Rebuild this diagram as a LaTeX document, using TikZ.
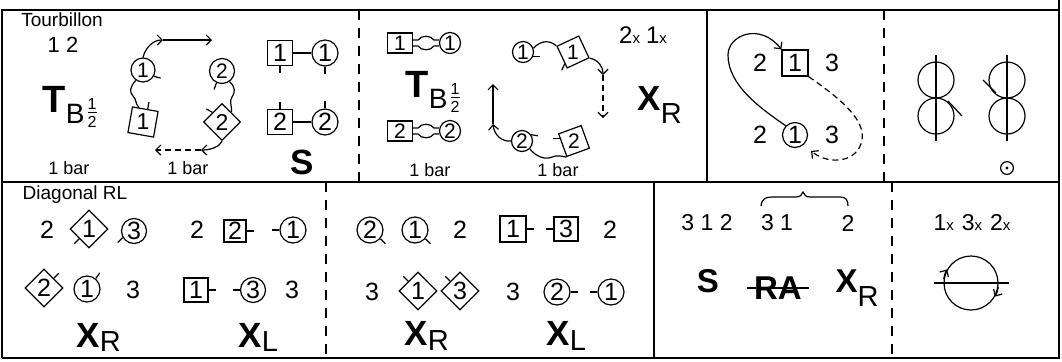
\documentclass[tikz,border=0pt]{standalone}
\usepackage{fontspec}
\setmainfont{Liberation Sans}
\usetikzlibrary{shapes.geometric,arrows.meta}

\newcommand{\fsz}[1]{\fontsize{#1}{#1}\selectfont}
% short facing mark on a dancer
\newcommand{\facing}[3]{\draw (#1.#2) -- ++(#3:3.5pt);}
% joined hands between a man and a woman
\newcommand{\hands}[2]{%
  \draw ([yshift=1.5pt]#1.east) -- ([shift={(2.5pt,1.5pt)}]#1.east)
    .. controls ([shift={(4pt,4pt)}]#1.east) and ([shift={(-4pt,4pt)}]#2.west) ..
    ([shift={(-2.5pt,1.5pt)}]#2.west) -- ([yshift=1.5pt]#2.west);
  \draw ([yshift=-1.5pt]#1.east) -- ([shift={(2.5pt,-1.5pt)}]#1.east)
    .. controls ([shift={(4pt,-4pt)}]#1.east) and ([shift={(-4pt,-4pt)}]#2.west) ..
    ([shift={(-2.5pt,-1.5pt)}]#2.west) -- ([yshift=-1.5pt]#2.west);}
\newcommand{\halfsup}{\raisebox{1.5pt}{$\vcenter{\hbox{\fsz{8}1}\kern1.6pt\hrule height 0.45pt\kern1.6pt\hbox{\fsz{8}2}}$}}
\newcommand{\TBhalf}{{\fsz{19}\bfseries T}\raisebox{-5.5pt}{\fsz{14}B\kern1.6pt\halfsup}}
\newcommand{\Xsub}[2]{{\bfseries X}\raisebox{-#2}{\fsz{14.5}#1}}
\newcommand{\xtimes}[1]{#1{\fsz{7.5}x}}

\tikzset{
  frame/.style={line width=0.9pt},
  divider/.style={line width=0.9pt, dash pattern=on 5pt off 4pt},
  dashmove/.style={dash pattern=on 3pt off 2pt},
  man/.style={draw, rectangle, inner sep=0pt, minimum size=12.5pt, font=\fsz{12.5}},
  woman/.style={draw, circle, inner sep=0pt, minimum size=13pt, font=\fsz{12.5}},
  mandiag/.style={draw, diamond, aspect=1, inner sep=0pt, minimum size=19pt, font=\fsz{12.5}},
  numlabel/.style={inner sep=0pt, font=\fsz{12.5}},
  caption/.style={inner sep=0pt, font=\fsz{9.5}},
  barlabel/.style={inner sep=0pt, font=\fsz{9}},
}

\begin{document}
\begin{tikzpicture}[x=0.5pt, y=-0.5pt, line width=0.6pt, >={Straight Barb[length=2.5pt,width=5pt]}]
\useasboundingbox (0,0) rectangle (1062,361);

% table
\draw[frame] (2,358) -- (2,10) -- (1059,10);
\draw[frame] (1059,0) -- (1059,358) -- (2,358);
\draw[frame] (2,182) -- (1059,182);
\draw[divider] (359,10) -- (359,182);
\draw[frame] (707,10) -- (707,182);
\draw[divider] (884,10) -- (884,182);
\draw[divider] (326,182) -- (326,358);
\draw[frame] (654,182) -- (654,358);
\draw[divider] (892,182) -- (892,358);

% --- Tourbillon, first half ---
\node[caption] (tourb) at (62,20) {Tourbillon};
\node[inner sep=0pt, font=\fsz{11}] (bars12) at (63,45) {1 2};
\node[inner sep=0pt, anchor=base west] (tb1) at (42,112) {\TBhalf};
\node[barlabel] (bar1a) at (69,168) {1 bar};

\node[woman, minimum size=12pt, font=\fsz{10.5}] (w1a) at (143,70) {1};
\node[man, rotate=-10, minimum size=13pt] (m1a) at (143,122) {};
\node[inner sep=0pt, font=\fsz{11.5}] (m1at) at (m1a) {1};
\node[woman, minimum size=12.5pt, font=\fsz{10.5}] (w2a) at (222,71) {2};
\node[mandiag, minimum size=18.5pt, font=\fsz{11.5}] (m2a) at (222,122) {2};
\facing{w1a}{-30}{-15}
\facing{m1a}{80}{80}
\facing{w2a}{-115}{-110}
\facing{m2a}{north west}{150}
\draw (w1a.235) .. controls (130,87) and (129,92) .. (133,96) .. controls (137,100) and (135,104) .. (m1a.115);
\draw (w2a.-55) .. controls (236,87) and (235,93) .. (232,97) .. controls (229,101) and (232,106) .. (m2a.north east);
\coordinate (turn1) at (163,40);
\draw[->] (w1a.north) .. controls (145,49) and (152,40) .. (turn1);
\draw[->] (turn1) -- (212,40);
\coordinate (turn2) at (201,150);
\draw[->] (m2a.south) .. controls (220,146) and (212,150) .. (turn2);
\draw[->, dashmove] (turn2) -- (155,150);
\node[barlabel] (bar1b) at (188,168) {1 bar};

\node[man] (m1b) at (280,53) {1};
\node[woman] (w1b) at (325,53) {1};
\draw (m1b) -- (w1b);
\facing{m1b}{south}{-90}
\facing{w1b}{south}{-90}
\node[man] (m2b) at (280,122) {2};
\node[woman] (w2b) at (325,122) {2};
\draw (m2b) -- (w2b);
\facing{m2b}{north}{90}
\facing{w2b}{north}{90}
\node[inner sep=0pt, font={\fsz{17.5}\bfseries}] (s1) at (302,162) {S};

% --- Tourbillon, second half ---
\node[man, minimum width=12.5pt, minimum height=10pt, font=\fsz{10.5}] (m1c) at (400,43) {1};
\node[woman, minimum size=10.5pt, font=\fsz{10.5}] (w1c) at (450,43) {1};
\hands{m1c}{w1c}
\node[inner sep=0pt, anchor=base west] (tb2) at (405,97) {\TBhalf};
\node[man, minimum width=12.5pt, minimum height=10pt, font=\fsz{10.5}] (m2c) at (400,131) {2};
\node[woman, minimum size=10.5pt, font=\fsz{10.5}] (w2c) at (450,131) {2};
\hands{m2c}{w2c}
\node[barlabel] (bar2a) at (430,170) {1 bar};

\node[woman, minimum size=10.5pt, font=\fsz{10.5}] (w1d) at (523,52) {1};
\node[man, rotate=25, minimum size=12pt] (m1d) at (573,52) {};
\node[inner sep=0pt, font=\fsz{10.5}] (m1dt) at (m1d) {1};
\draw (w1d.20) .. controls (541,40) and (550,40) .. (m1d.north west);
\facing{w1d}{-25}{0}
\facing{m1d}{210}{-115}
\coordinate (turn3) at (603,75);
\draw[->] (m1d.south east) .. controls (598,60) and (603,66) .. (turn3);
\draw[->, dashmove] (turn3) -- (603,118);
\node[woman, minimum size=10.5pt, font=\fsz{10.5}] (w2d) at (522,141) {2};
\node[man, rotate=20, minimum size=12pt] (m2d) at (574,141) {};
\node[inner sep=0pt, font=\fsz{10.5}] (m2dt) at (m2d) {2};
\draw (w2d.-45) .. controls (536,157) and (546,160) .. (552,157) .. controls (557,155) and (561,156) .. (m2d.south west);
\facing{w2d}{35}{-10}
\facing{m2d}{150}{180}
\coordinate (turn4) at (493,124);
\draw[->] (w2d.west) .. controls (501,142) and (494,134) .. (turn4);
\draw[->] (turn4) -- (493,84);
\node[barlabel] (bar2b) at (558,170) {1 bar};
\node[inner sep=0pt, font=\fsz{12}] (rep2) at (643,35) {\xtimes{2}\hspace{3pt}\xtimes{1}};
\node[inner sep=0pt, anchor=base west, font=\fsz{17.5}] (xr2) at (637,110) {\Xsub{R}{6.5pt}};

% --- loop round ---
\node[numlabel] (p3a) at (760,63) {2};
\node[man, minimum size=13pt] (m1e) at (795,63) {1};
\node[numlabel] (p3b) at (832,63) {3};
\node[numlabel] (p3c) at (760,135) {2};
\node[woman, minimum size=12.5pt] (w1e) at (795,135) {1};
\node[numlabel] (p3d) at (832,135) {3};
\draw[->] (w1e.north west) .. controls (760,108) and (728,85) .. (728,55) .. controls (728,35) and (760,22) .. (m1e.north west);
\coordinate (back3) at (811,151);
\draw[->, dashmove] (m1e.south east) .. controls (835,95) and (866,118) .. (862,140) .. controls (858,162) and (830,166) .. (back3);

% --- figures of eight ---
\draw (936,80) circle[radius=9pt];
\draw (936,116) circle[radius=9pt];
\draw (936,55) -- (936,141);
\draw (948,101) -- (962,116);
\draw (1007,80) circle[radius=9pt];
\draw (1007,116) circle[radius=9pt];
\draw (1007,55) -- (1007,141);
\draw (983,80) -- (996,93);
\draw (1007,168) circle[radius=3.2pt];
\fill (1007,168) circle[radius=0.8pt];

% --- Diagonal RL ---
\node[caption] (diagrl) at (75,195) {Diagonal RL};
\node[numlabel] (q1a) at (47,230) {2};
\node[mandiag] (d1f) at (89,229) {1};
\node[woman, minimum size=12.5pt] (w3f) at (134,231) {3};
\facing{d1f}{south west}{-135}
\facing{w3f}{-150}{-135}
\node[numlabel] (q1b) at (197,230) {2};
\node[man, minimum size=11pt] (m2f) at (235,231) {2};
\node[woman] (w1f) at (293,230) {1};
\facing{m2f}{east}{0}
\facing{w1f}{west}{180}

\node[mandiag] (d2g) at (44,288) {2};
\node[woman] (w1g) at (87,289) {1};
\node[numlabel] (q1c) at (133,290) {3};
\facing{d2g}{north east}{45}
\facing{w1g}{50}{55}
\node[man, minimum size=12pt] (m1g) at (196,290) {1};
\node[woman, minimum size=12.5pt] (w3g) at (253,290) {3};
\node[numlabel] (q1d) at (292,290) {3};
\facing{m1g}{east}{0}
\facing{w3g}{west}{180}
\node[inner sep=0pt, anchor=base west, font=\fsz{17.5}] (xr4) at (76,347) {\Xsub{R}{2pt}};
\node[inner sep=0pt, anchor=base west, font=\fsz{17.5}] (xl4) at (238,347) {\Xsub{L}{2pt}};

\node[woman] (w2h) at (370,230) {2};
\node[woman] (w1h) at (415,230) {1};
\node[numlabel] (q2a) at (460,230) {2};
\facing{w2h}{-40}{-45}
\facing{w1h}{-40}{-45}
\node[man, minimum size=13pt] (m1h) at (513,229) {1};
\node[man, minimum size=12pt] (m3h) at (566,229) {3};
\node[numlabel] (q2b) at (610,230) {2};
\facing{m1h}{east}{0}
\facing{m3h}{west}{180}

\node[numlabel] (q2c) at (372,292) {3};
\node[mandiag] (d1i) at (418,291) {1};
\node[mandiag] (d3i) at (460,291) {3};
\facing{d1i}{north west}{135}
\facing{d3i}{north west}{135}
\node[numlabel] (q2d) at (513,292) {3};
\node[woman] (w2i) at (557,292) {2};
\node[woman] (w1i) at (611,292) {1};
\facing{w2i}{east}{0}
\facing{w1i}{west}{180}
\node[inner sep=0pt, anchor=base west, font=\fsz{17.5}] (xr5) at (404,345) {\Xsub{R}{2.5pt}};
\node[inner sep=0pt, anchor=base west, font=\fsz{17.5}] (xl5) at (546,345) {\Xsub{L}{2.5pt}};

% --- order of figures ---
\node[inner sep=0pt, font=\fsz{11.5}] (ord1) at (707,223) {3 1 2};
\node[inner sep=0pt, font=\fsz{11.5}] (ord2) at (777,223) {3 1};
\node[inner sep=0pt, font=\fsz{11.5}] (ord3) at (848,223) {2};
\draw (761,206) .. controls (762,199) and (765,197) .. (772,197) -- (796,197)
  .. controls (800,197) and (802,195) .. (803,192) .. controls (804,195) and (806,197) .. (810,197)
  -- (840,197) .. controls (846,197) and (848,200) .. (848,206);
\node[inner sep=0pt, anchor=base, font={\fsz{16.5}\bfseries}] (s3) at (708,292) {S};
\node[inner sep=0pt, font={\fsz{16.5}\bfseries}] (ra3) at (778,288) {RA};
\draw ([xshift=-3.5pt]ra3.west) -- ([xshift=3.5pt]ra3.east);
\node[inner sep=0pt, anchor=base west, font=\fsz{16.5}] (xr6) at (835,292) {\Xsub{R}{7pt}};

\node[inner sep=0pt, font=\fsz{11.5}] (rep4) at (972,223) {\xtimes{1}\hspace{4pt}\xtimes{3}\hspace{4pt}\xtimes{2}};
\node[circle, draw, inner sep=0pt, minimum size=27pt] (spin) at (971,283) {};
\draw ([xshift=-4.5pt]spin.west) -- ([xshift=5pt]spin.east);
\draw[->] (spin.172) arc[start angle=172, end angle=150, radius=13.5pt];
\draw[->] (spin.-8) arc[start angle=-8, end angle=-30, radius=13.5pt];

\end{tikzpicture}
\end{document}
